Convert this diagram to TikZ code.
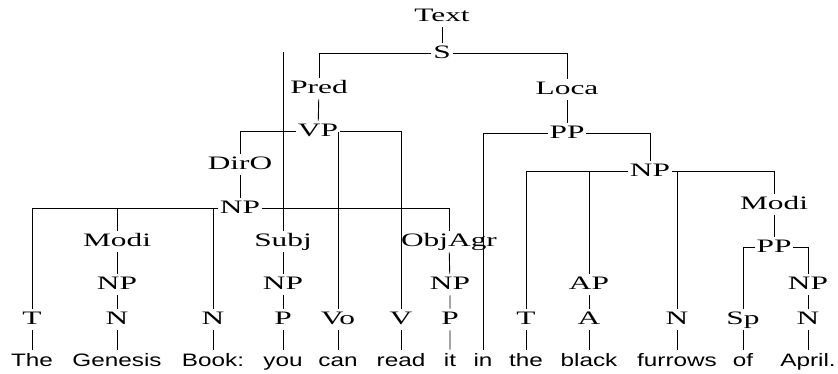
\documentclass[tikz,border=0pt]{standalone}
\usepackage{fontspec}
\usepackage{tikz}
\newfontfamily\labfont[FakeStretch=1.65]{Liberation Serif}
\newfontfamily\wordfont[FakeStretch=1.35]{Liberation Sans}

\begin{document}
\begin{tikzpicture}[x=1pt,y=-1pt,line width=0.9pt,
    lab/.style={font={\labfont\fontsize{19}{19}\selectfont},anchor=base,inner xsep=1.5pt,inner ysep=2.5pt,text height=12.5pt,text depth=3.5pt},
    word/.style={font={\wordfont\fontsize{18}{18}\selectfont},anchor=base,inner xsep=1pt,inner ysep=3pt,text height=13pt,text depth=4pt}]
            \useasboundingbox (0,0) rectangle (838,373);
            \node[lab] (text) at (442,21) {Text};
            \node[lab] (s) at (442,58) {S};
            \node[lab] (pred) at (319,93) {Pred};
            \node[lab] (loca) at (567,94) {Loca};
            \node[lab] (vp) at (318,136) {VP};
            \node[lab] (pp) at (567,138) {PP};
            \node[lab] (diro) at (240,169) {DirO};
            \node[lab] (npr) at (650,176) {NP};
            \node[lab] (np) at (240,213) {NP};
            \node[lab] (modir) at (774,209) {Modi};
            \node[lab] (modi) at (117,246) {Modi};
            \node[lab] (subj) at (283,246) {Subj};
            \node[lab] (objagr) at (449,246) {ObjAgr};
            \node[lab] (ppr) at (774,252) {PP};
            \coordinate (subjtop) at (283,52);

            \node[lab] (npa) at (117,289) {NP};
            \node[lab] (npb) at (283,289) {NP};
            \node[lab] (npc) at (450,289) {NP};
            \node[lab] (ap) at (589,289) {AP};
            \node[lab] (npd) at (808,289) {NP};

            \node[lab] (t1) at (32,324) {T};
            \node[lab] (n1) at (117,324) {N};
            \node[lab] (n2) at (213,324) {N};
            \node[lab] (p1) at (283,324) {P};
            \node[lab] (vo) at (338,324) {Vo};
            \node[lab] (v) at (401,324) {V};
            \node[lab] (p2) at (450,324) {P};
            \node[lab] (t2) at (526,324) {T};
            \node[lab] (a) at (589,324) {A};
            \node[lab] (n3) at (677,324) {N};
            \node[lab] (sp) at (743,324) {Sp};
            \node[lab] (n4) at (808,324) {N};

            \node[word] (the) at (32,366) {The};
            \node[word] (genesis) at (117,366) {Genesis};
            \node[word] (book) at (213,366) {Book:};
            \node[word] (you) at (283,366) {you};
            \node[word] (can) at (338,366) {can};
            \node[word] (read) at (401,366) {read};
            \node[word] (it) at (450,366) {it};
            \node[word] (in) at (483,366) {in};
            \node[word] (the2) at (526,366) {the};
            \node[word] (black) at (589,366) {black};
            \node[word] (furrows) at (677,366) {furrows};
            \node[word] (of) at (743,366) {of};
            \node[word] (april) at (808,366) {April.};

            \draw (text) -- (s);
            \draw (s.west) -| (pred);
            \draw (s.east) -| (loca);
            \draw (subjtop) -- (subj);
            \draw (pred) -- (vp);
            \draw (vp.west) -| (diro);
            \draw (vp.east) -| (v);
            \draw (vo) -- (vo |- vp.east);
            \draw (diro) -- (np);
            \draw (t1) |- (np.west);
            \draw (modi) -- (modi |- np.west);
            \draw (n2) -- (n2 |- np.west);
            \draw (np.east) -| (objagr);
            \draw (modi) -- (npa) -- (n1) -- (genesis);
            \draw (t1) -- (the);
            \draw (n2) -- (book);
            \draw (subj) -- (npb) -- (p1) -- (you);
            \draw (vo) -- (can);
            \draw (v) -- (read);
            \draw (objagr) -- (npc) -- (p2) -- (it);
            \draw (loca) -- (pp);
            \draw (pp.west) -| (in);
            \draw (pp.east) -| (npr);
            \draw (t2) |- (npr.west);
            \draw (ap) -- (ap |- npr.west);
            \draw (n3) -- (n3 |- npr.east);
            \draw (npr.east) -| (modir);
            \draw (t2) -- (the2);
            \draw (ap) -- (a) -- (black);
            \draw (n3) -- (furrows);
            \draw (modir) -- (ppr);
            \draw (ppr.west) -| (sp);
            \draw (ppr.east) -| (npd);
            \draw (sp) -- (of);
            \draw (npd) -- (n4) -- (april);
        \end{tikzpicture}
\end{document}
